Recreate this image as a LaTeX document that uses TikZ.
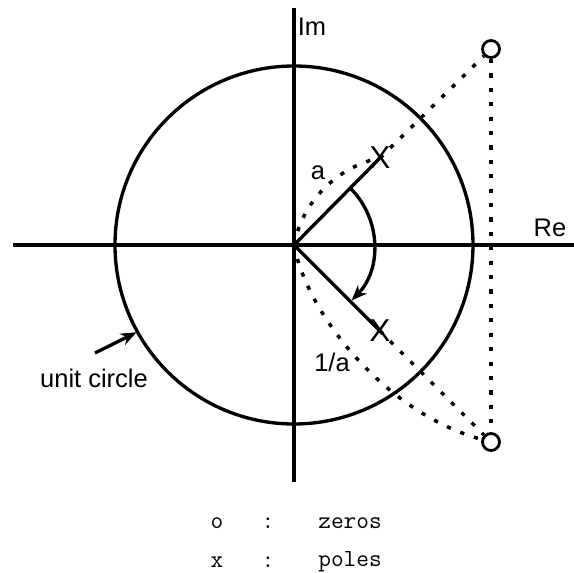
\documentclass[tikz,border=0pt]{standalone}
\usepackage{fontspec}
\setsansfont{Liberation Sans}
\usetikzlibrary{arrows.meta}

\begin{document}
\begin{tikzpicture}[
    axis/.style={line width=1.9pt},
    dots/.style={line width=2pt, dash pattern=on 2.4pt off 5.8pt},
    lbl/.style={font=\fontsize{14.5}{16}\sffamily\selectfont, inner sep=0pt},
    pole/.style={font=\fontsize{18}{18}\sffamily\selectfont, inner sep=0pt},
    zero/.style={draw, circle, line width=1.6pt, minimum size=0.34cm, inner sep=0pt},
    leg/.style={font=\fontsize{14}{16}\ttfamily\selectfont, inner sep=0pt}]
    \useasboundingbox (-5.88,-6.56) rectangle (5.6,4.9);

    % axes and unit circle
    \coordinate (o) at (0,0);
    \draw[axis] (-5.62,0) -- (5.6,0);
    \draw[axis] (0,-4.74) -- (0,4.74);
    \draw[axis] (o) circle[radius=3.58];
    \node[lbl, anchor=west] (im) at (0.07,4.36) {Im};
    \node[lbl] (re) at (5.12,0.34) {Re};

    % poles and zeros
    \node[pole] (poleU) at (1.72,1.74) {X};
    \node[pole] (poleL) at (1.72,-1.72) {X};
    \node[zero] (zeroU) at (3.94,3.92) {};
    \node[zero] (zeroL) at (3.94,-3.94) {};

    \draw[axis] (o) -- (poleU.center);
    \draw[axis] (o) -- (poleL.center);
    \draw[dots] (o) .. controls (0.2,1.0) and (1.0,1.6) .. (poleU.center);
    \draw[dots] (poleU.center) -- (zeroU);
    \draw[dots] (poleL.center) -- (zeroL);
    \draw[dots] (o) .. controls (0.25,-1.35) and (1.8,-3.35) .. (zeroL);
    \draw[dots] (zeroU) -- (zeroL);

    \node[lbl] (a) at (0.48,1.44) {a};
    \node[lbl] (inva) at (0.76,-2.34) {1/a};

    % angle
    \draw[axis, -{Stealth[length=9pt, width=7pt]}] (45:1.6) arc[start angle=45, end angle=-44, radius=1.6];

    % unit circle label
    \node[lbl] (uc) at (-4.0,-2.66) {unit circle};
    \coordinate (ucs) at (-3.98,-2.16);
    \coordinate (ucp) at (209:3.6);
    \draw[axis, -{Stealth[length=9pt, width=7pt]}] (ucs) -- (ucp);

    % legend
    \node[leg] (lo) at (-1.54,-5.56) {o};
    \node[leg] (lc1) at (-0.52,-5.56) {:};
    \node[leg, anchor=west] (lz) at (0.48,-5.56) {zeros};
    \node[leg] (lx) at (-1.54,-6.34) {x};
    \node[leg] (lc2) at (-0.52,-6.34) {:};
    \node[leg, anchor=west] (lp) at (0.48,-6.34) {poles};
\end{tikzpicture}
\end{document}
